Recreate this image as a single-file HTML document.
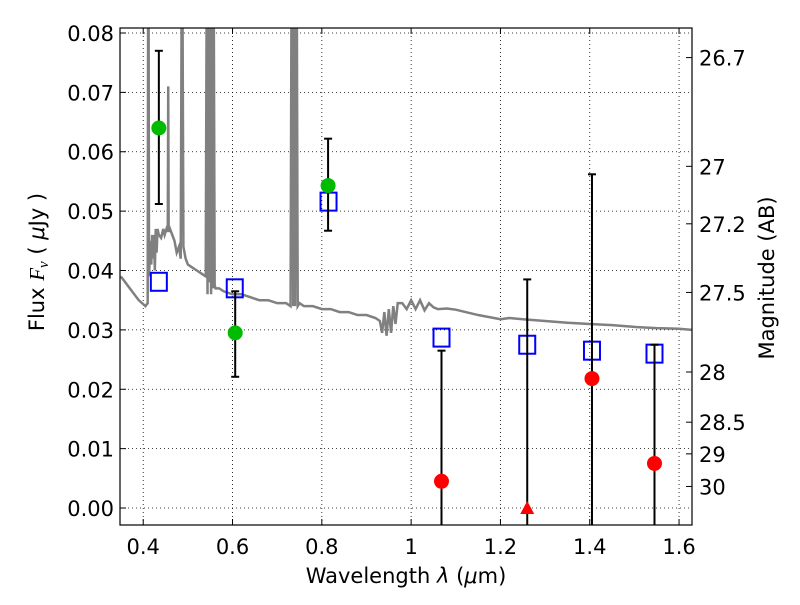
<!DOCTYPE html>
<html><head><meta charset="utf-8"><style>
body{margin:0;background:#fff}
svg{font-family:"DejaVu Sans","Liberation Sans",sans-serif}
</style></head><body>
<svg id="chart" width="800" height="600" viewBox="0 0 800 600" xmlns="http://www.w3.org/2000/svg">
<defs><clipPath id="cp"><rect x="120" y="28" width="572" height="497"/></clipPath></defs>
<g id="grid"></g>
<g id="model" clip-path="url(#cp)"></g>
<g id="marks" clip-path="url(#cp)"></g>
<rect x="120" y="28" width="572" height="497" fill="none" stroke="#000" stroke-width="1.2"/>
<g id="axes" font-size="21"></g>
<text x="406" y="583" font-size="21" text-anchor="middle">Wavelength  <tspan font-style="italic">λ</tspan> (<tspan font-style="italic">μ</tspan>m)</text>
<text transform="translate(44,262) rotate(-90)" font-size="21" text-anchor="middle">Flux  <tspan font-family="Liberation Serif" font-style="italic">F<tspan font-size="15" dy="4">ν</tspan></tspan><tspan dy="-4">  (  </tspan><tspan font-style="italic">μ</tspan>Jy )</text>
<text transform="translate(774,278) rotate(-90)" font-size="21" text-anchor="middle">Magnitude (AB)</text>
</svg>
<script>
const xTicks=[0.4,0.6,0.8,1.0,1.2,1.4,1.6];
const xTickLabels=["0.4","0.6","0.8","1","1.2","1.4","1.6"];
const yTicks=[0,0.01,0.02,0.03,0.04,0.05,0.06,0.07,0.08];
const yTickLabels=["0.00","0.01","0.02","0.03","0.04","0.05","0.06","0.07","0.08"];
const magTicks=[26.7,27,27.2,27.5,28,28.5,29,30];
const detWave=[0.435,0.606,0.814];
const detFlux=[0.064,0.0295,0.0543];
const detLo=[0.0512,0.0221,0.0467];
const detHi=[0.077,0.0365,0.0622];
const ulWave=[1.068,1.26,1.405,1.545];
const ulFlux=[0.0045,0.0,0.0218,0.0075];
const ulHi=[0.0265,0.0385,0.0562,0.0275];
const ulShape=["circle","triangle","circle","circle"];
const modWave=[0.435,0.605,0.815,1.068,1.26,1.405,1.545];
const modFlux=[0.0381,0.037,0.0516,0.0287,0.0275,0.0265,0.026];
const specWave=[0.35,0.37,0.39,0.405,0.41,0.411,0.412,0.413,0.416,0.418,0.42,0.422,0.424,0.426,0.428,0.43,0.432,0.435,0.44,0.445,0.448,0.452,0.455,0.456,0.457,0.46,0.465,0.47,0.475,0.48,0.484,0.486,0.488,0.49,0.495,0.5,0.51,0.52,0.53,0.54,0.542,0.544,0.546,0.548,0.55,0.552,0.554,0.556,0.558,0.56,0.562,0.57,0.58,0.6,0.62,0.64,0.66,0.68,0.7,0.72,0.73,0.732,0.734,0.736,0.738,0.74,0.742,0.744,0.746,0.75,0.76,0.78,0.8,0.82,0.84,0.86,0.88,0.9,0.92,0.93,0.935,0.94,0.945,0.95,0.955,0.96,0.965,0.97,0.98,0.99,1.0,1.01,1.02,1.03,1.04,1.05,1.06,1.08,1.1,1.15,1.2,1.22,1.25,1.3,1.35,1.4,1.45,1.5,1.55,1.6,1.63];
const specFlux=[0.039,0.037,0.035,0.034,0.0345,0.085,0.085,0.039,0.045,0.041,0.046,0.042,0.046,0.040,0.047,0.043,0.047,0.046,0.0455,0.047,0.046,0.047,0.0465,0.071,0.0465,0.047,0.046,0.045,0.043,0.044,0.042,0.085,0.085,0.044,0.042,0.041,0.0405,0.040,0.0395,0.039,0.085,0.036,0.085,0.038,0.085,0.036,0.085,0.037,0.085,0.0375,0.037,0.037,0.0365,0.036,0.036,0.0355,0.035,0.035,0.0345,0.0345,0.034,0.085,0.085,0.034,0.085,0.034,0.085,0.085,0.034,0.0345,0.034,0.034,0.0335,0.0335,0.033,0.033,0.0325,0.0325,0.032,0.0315,0.0295,0.033,0.029,0.0335,0.0295,0.034,0.031,0.0345,0.0345,0.0335,0.035,0.0335,0.035,0.0333,0.0345,0.0338,0.0335,0.0336,0.0334,0.0325,0.0318,0.032,0.0318,0.0315,0.0312,0.031,0.0308,0.0305,0.0303,0.0302,0.03];
const L=120,R=692,T=28,B=525,X0=0.348,X1=1.629,Y0=-0.00286,Y1=0.08084;
const sx=v=>L+(v-X0)/(X1-X0)*(R-L);
const sy=v=>B-(v-Y0)/(Y1-Y0)*(B-T);
const NS="http://www.w3.org/2000/svg";
function mk(p,t,a){const e=document.createElementNS(NS,t);for(const k in a)e.setAttribute(k,a[k]);p.appendChild(e);return e;}
const grid=document.getElementById('grid'),axes=document.getElementById('axes'),marks=document.getElementById('marks'),model=document.getElementById('model');
xTicks.forEach((v,i)=>{const x=sx(v);
 const g=mk(grid,'line',{x1:x,x2:x,y1:T,y2:B,stroke:'#000','stroke-width':0.8,'stroke-dasharray':'1,3'});
 
 mk(axes,'line',{x1:x,x2:x,y1:B,y2:B-6,stroke:'#000'});mk(axes,'line',{x1:x,x2:x,y1:T,y2:T+6,stroke:'#000'});
 const t=mk(axes,'text',{x:x,y:B+29,'text-anchor':'middle'});t.textContent=xTickLabels[i];
 });
yTicks.forEach((v,i)=>{const y=sy(v);
 const g=mk(grid,'line',{x1:L,x2:R,y1:y,y2:y,stroke:'#000','stroke-width':0.8,'stroke-dasharray':'1,3'});
 
 mk(axes,'line',{x1:L,x2:L+6,y1:y,y2:y,stroke:'#000'});
 const t=mk(axes,'text',{x:L-6,y:y+8,'text-anchor':'end'});t.textContent=yTickLabels[i];
 });
magTicks.forEach(m=>{const y=sy(Math.pow(10,(23.9-m)/2.5));
 mk(axes,'line',{x1:R,x2:R-6,y1:y,y2:y,stroke:'#000'});
 const t=mk(axes,'text',{x:R+7,y:y+8});t.textContent=String(m);
 });
const pth=mk(model,'polyline',{points:specWave.map((w,i)=>sx(w)+','+sy(specFlux[i])).join(' '),fill:'none',stroke:'#808080','stroke-width':2.5});

function err(x,lo,hi){mk(marks,'line',{x1:x,x2:x,y1:sy(lo),y2:sy(hi),stroke:'#000','stroke-width':2});
 [lo,hi].forEach(v=>{if(sy(v)<B)mk(marks,'line',{x1:x-4,x2:x+4,y1:sy(v),y2:sy(v),stroke:'#000','stroke-width':2});});}
modWave.forEach((w,i)=>{const r=mk(marks,'rect',{x:sx(w)-8,y:sy(modFlux[i])-9,width:16,height:18,fill:'none',stroke:'#0000ff','stroke-width':2});
 });
detWave.forEach((w,i)=>{err(sx(w),detLo[i],detHi[i]);
 const c=mk(marks,'circle',{cx:sx(w),cy:sy(detFlux[i]),r:7.5,fill:'#00bb00'});
 });
ulWave.forEach((w,i)=>{err(sx(w),-0.01,ulHi[i]);const x=sx(w),y=sy(ulFlux[i]);let c;
 if(ulShape[i]==='triangle')c=mk(marks,'polygon',{points:`${x-7},${y+6} ${x+7},${y+6} ${x},${y-7}`,fill:'#ff0000'});
 else c=mk(marks,'circle',{cx:x,cy:y,r:7.5,fill:'#ff0000'});
 });
</script>
</body></html>
